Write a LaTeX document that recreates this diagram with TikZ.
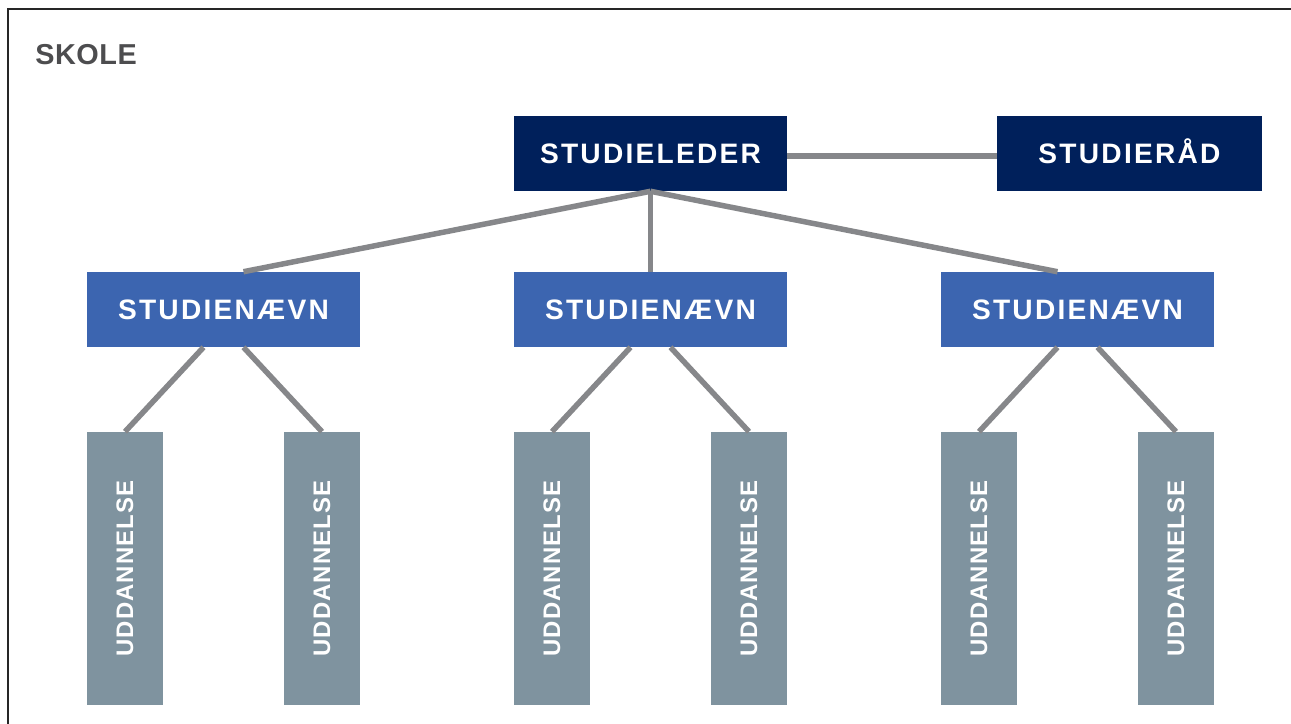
\documentclass[tikz,border=0pt]{standalone}
\usepackage{fontspec}
\setmainfont{Liberation Sans}
\definecolor{leder}{HTML}{00205B}
\definecolor{naevn}{HTML}{3C65B0}
\definecolor{udd}{HTML}{7F939F}
\definecolor{linje}{HTML}{86878A}
\definecolor{skoletxt}{HTML}{4D4D4F}
\tikzset{
  top box/.style={
    fill=leder, text=white,
    minimum width=6.825cm,
    minimum height=1.875cm,
    text height=14.3pt, text depth=0pt,
    font=\bfseries\fontsize{20}{24}\selectfont\addfontfeature{LetterSpace=8}
  },
  naevn box/.style={
    top box, fill=naevn
  },
  udd box/.style={
    fill=udd, text=white,
    minimum width=1.9cm,
    minimum height=6.825cm,
    font=\bfseries\fontsize{17}{20}\selectfont\addfontfeature{LetterSpace=4.5}
  },
}
\begin{document}
\begin{tikzpicture}[x=0.025cm,y=-0.025cm,
    link/.style={draw=linje, line width=3.9pt},
  ]
  \useasboundingbox (0,0) rectangle (1291,724);
  \draw[line width=1.5pt, black!85] (8,724) -- (8,9) -- (1291,9);
  \node (skole) [anchor=west, inner sep=0pt, text=skoletxt,
    font=\bfseries\fontsize{20.5}{24}\selectfont\addfontfeature{LetterSpace=2}]
    at (35,54.5) {SKOLE};

  \node (leder) [top box] at (650.5,153.5) {STUDIELEDER};
  \node (raad) [top box, minimum width=6.625cm] at (1129.5,153.5) {STUDIERÅD};
  \foreach \i/\x in {1/223.5,2/650.5,3/1077.5} {
    \node (sn\i) [naevn box] at (\x,309.5) {STUDIENÆVN};
  }
  \foreach \i/\x in {1/125,2/322,3/552,4/749,5/979,6/1176} {
    \node (ud\i) [udd box] at (\x,568.5) {\rotatebox{90}{UDDANNELSE}};
  }

  \draw[link] ([yshift=-0.06cm]leder.east) -- ([yshift=-0.06cm]raad.west);
  \draw[link] (leder.south) -- ([xshift=0.5cm]sn1.north);
  \draw[link] (leder.south) -- (sn2.north);
  \draw[link] (leder.south) -- ([xshift=-0.5cm]sn3.north);
  \foreach \i/\a/\b in {1/1/2,2/3/4,3/5/6} {
    \draw[link] ([xshift=-0.5cm]sn\i.south) -- (ud\a.north);
    \draw[link] ([xshift=0.5cm]sn\i.south) -- (ud\b.north);
  }
\end{tikzpicture}
\end{document}
